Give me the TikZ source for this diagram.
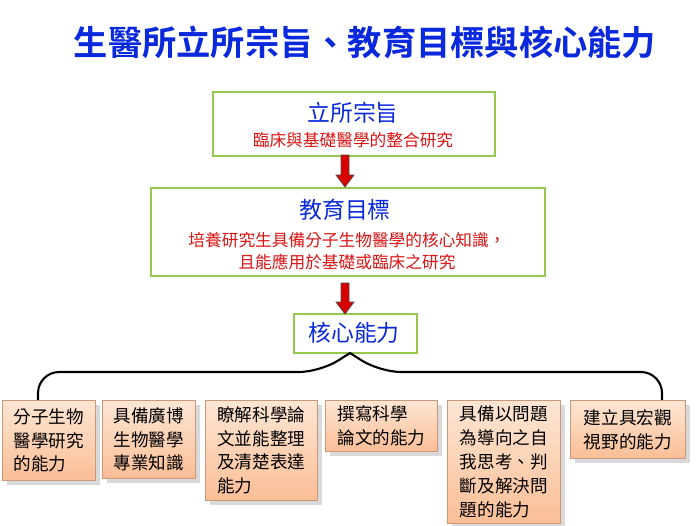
\documentclass[tikz,border=0pt]{standalone}
\usepackage{fontspec}
\setmainfont{Noto Sans CJK TC}
\newfontfamily\cjkb{Noto Sans CJK TC Bold}
\usetikzlibrary{shadows}
\definecolor{titleblue}{RGB}{10,40,220}
\definecolor{redtxt}{RGB}{220,20,20}
\definecolor{boxgreen}{RGB}{150,200,80}
\definecolor{peach}{RGB}{250,190,150}
\definecolor{peachlt}{RGB}{253,230,212}
\tikzstyle{goalbox} = [rectangle, draw=boxgreen, line width=1.2pt, fill=white, align=center, anchor=north west, inner sep=0pt]
\tikzstyle{skill} = [rectangle, draw=peach!80!black, top color=peachlt, bottom color=peach, drop shadow={opacity=0.3}, align=left, anchor=north west, inner sep=3pt, font=\fontsize{10pt}{13.6pt}\selectfont]
\tikzstyle{downarrow} = [draw=black!70, fill=red!85!black, line width=0.4pt]

\begin{document}
\begin{tikzpicture}[x=0.02cm, y=-0.02cm]
\useasboundingbox (0,0) rectangle (700,525);

\node (title) at (365,42) [text=titleblue, font=\fontsize{19.5pt}{22pt}\selectfont\cjkb] {生醫所立所宗旨、教育目標與核心能力};

\node (aim) at (212,91) [goalbox, minimum width=282*0.02cm, minimum height=64*0.02cm] {};
\node at (353,113) [text=titleblue, font=\fontsize{13pt}{15pt}\selectfont] {立所宗旨};
\node at (353,140) [text=redtxt, font=\fontsize{9.5pt}{12pt}\selectfont] {臨床與基礎醫學的整合研究};

\node (edu) at (150,187) [goalbox, minimum width=394*0.02cm, minimum height=88*0.02cm] {};
\node at (345,210) [text=titleblue, font=\fontsize{13pt}{15pt}\selectfont] {教育目標};
\node at (347,240) [text=redtxt, font=\fontsize{9.5pt}{12pt}\selectfont] {培養研究生具備分子生物醫學的核心知識，};
\node at (347,262) [text=redtxt, font=\fontsize{9.5pt}{12pt}\selectfont] {且能應用於基礎或臨床之研究};

\node (core) at (293,313) [goalbox, minimum width=123*0.02cm, minimum height=39*0.02cm] {};
\node at (354,333) [text=titleblue, font=\fontsize{13pt}{15pt}\selectfont] {核心能力};

% arrows
\draw [downarrow] (341,155) -- (349,155) -- (349,175) -- (354,175) -- (345,187) -- (336,175) -- (341,175) -- cycle;
\draw [downarrow] (341,283) -- (349,283) -- (349,302) -- (354,302) -- (345,314) -- (336,302) -- (341,302) -- cycle;

% brace
\draw [line width=1.2pt, rounded corners=12pt] (38,400) -- (38,372) -- (320,372) -- (350,353);
\draw [line width=1.2pt, rounded corners=12pt] (662,400) -- (662,372) -- (380,372) -- (350,353);

\node (s1) at (2,400) [skill, minimum width=93*0.02cm, minimum height=80*0.02cm] {分子生物\\醫學研究\\的能力};
\node (s2) at (102,400) [skill, minimum width=93*0.02cm, minimum height=78*0.02cm] {具備廣博\\生物醫學\\專業知識};
\node (s3) at (205,400) [skill, minimum width=112*0.02cm, minimum height=100*0.02cm] {瞭解科學論\\文並能整理\\及清楚表達\\能力};
\node (s4) at (325,400) [skill, minimum width=112*0.02cm, minimum height=50*0.02cm] {撰寫科學\\論文的能力};
\node (s5) at (447,400) [skill, minimum width=113*0.02cm, minimum height=123*0.02cm] {具備以問題\\為導向之自\\我思考、判\\斷及解決問\\題的能力};
\node (s6) at (570,400) [skill, minimum width=115*0.02cm, minimum height=58*0.02cm] {建立具宏觀\\視野的能力};

\end{tikzpicture}
\end{document}
